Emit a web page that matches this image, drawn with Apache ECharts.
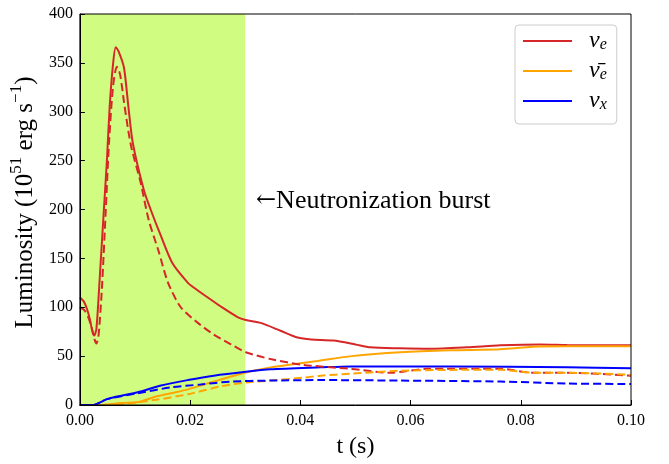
<!DOCTYPE html>
<html>
<head>
<meta charset="utf-8">
<script src="https://cdn.jsdelivr.net/npm/echarts@6/dist/echarts.min.js"></script>
<style>
  html, body { margin: 0; padding: 0; background: #fff; }
  #chart { width: 669px; height: 464px; }
</style>
</head>
<body>
<div id="chart"></div>
<script>
// Neutrino luminosities during the first 0.1 s after bounce
// (solid and dashed curves are two model variants)

const xTicks = [0, 0.02, 0.04, 0.06, 0.08, 0.10];
const yTicks = [0, 50, 100, 150, 200, 250, 300, 350, 400];

// nu_e, solid
const tNueA = [0, 0.0007, 0.0013, 0.0018, 0.0022, 0.0026, 0.003, 0.0036, 0.0043, 0.0049, 0.0054, 0.006, 0.0065, 0.007, 0.008, 0.0088, 0.0096, 0.0116, 0.0129, 0.0147, 0.0168, 0.0196, 0.0207, 0.0232, 0.0255, 0.0286, 0.0301, 0.0328, 0.0364, 0.0395, 0.042, 0.046, 0.05, 0.0527, 0.058, 0.0636, 0.0703, 0.0763, 0.0835, 0.0884, 0.1];
const lNueA = [110, 106, 98, 88, 77, 71, 78, 130, 195, 250, 305, 348, 366, 362, 345, 305, 268, 220, 199, 173, 145, 125, 120, 110, 101, 90, 87, 84, 76, 69, 67, 66, 62, 59, 58, 57.5, 59, 61, 62, 61.5, 61];

// nu_e, dashed
const tNueB = [0, 0.0008, 0.0015, 0.0021, 0.0026, 0.003, 0.0034, 0.004, 0.0047, 0.0053, 0.006, 0.0067, 0.0073, 0.008, 0.0088, 0.0094, 0.011, 0.0125, 0.0143, 0.016, 0.0183, 0.0214, 0.0243, 0.0274, 0.0301, 0.0346, 0.0406, 0.0491, 0.0563, 0.063, 0.0763, 0.0822, 0.0884, 0.1];
const lNueB = [100, 97, 90, 80, 68, 63, 72, 120, 200, 270, 325, 346, 338, 310, 280, 262, 228, 189, 157, 125, 100, 84, 72, 62, 54, 47, 41, 37, 33, 37, 37, 33, 33, 30];

// anti nu_e, solid
const tAnueA = [0, 0.004, 0.0075, 0.0106, 0.0134, 0.0165, 0.0196, 0.0225, 0.0255, 0.0286, 0.0315, 0.0346, 0.0377, 0.0431, 0.0493, 0.0582, 0.0672, 0.0763, 0.0822, 0.0884, 0.1];
const lAnueA = [0, 0, 2, 3, 8, 12, 16, 21, 26, 31, 35, 38.5, 41, 45, 50, 54, 56, 57, 59.5, 60, 60];

// anti nu_e, dashed
const tAnueB = [0, 0.005, 0.0134, 0.0196, 0.0255, 0.0301, 0.0346, 0.0406, 0.0437, 0.0491, 0.058, 0.0703, 0.0763, 0.0822, 0.0884, 0.1];
const lAnueB = [0, 0, 5, 11, 19, 23, 25, 28, 30, 32, 35, 36, 36, 33, 33, 31];

// nu_x, solid
const tNuxA = [0, 0.0025, 0.0038, 0.0049, 0.0062, 0.0105, 0.0147, 0.0196, 0.0243, 0.0301, 0.0346, 0.0437, 0.0491, 0.0672, 0.0884, 0.1];
const lNuxA = [0, 0, 3, 6, 8, 13, 20, 25.5, 30, 34, 36.5, 38.5, 39.5, 39.5, 38.5, 37.5];

// nu_x, dashed
const tNuxB = [0, 0.0025, 0.0038, 0.0049, 0.0105, 0.0165, 0.0219, 0.0274, 0.0346, 0.0437, 0.058, 0.0763, 0.0884, 0.1];
const lNuxB = [0, 0, 3, 6, 12, 18, 21, 24, 25, 25.5, 25, 24, 22, 21.5];

const burstStart = 0;
const burstEnd = 0.03;

const RED = '#d62728';
const ORANGE = '#ffa500';
const BLUE = '#0000ff';
const FONT = 'Liberation Serif';

function pairs(t, v) { return t.map((x, i) => [x, v[i]]); }

function curve(name, t, v, color, dashed) {
  return {
    name: name,
    type: 'line',
    data: pairs(t, v),
    smooth: 0.25,
    symbol: 'none',
    lineStyle: { color: color, width: 2, type: dashed ? [8, 4] : 'solid' },
    itemStyle: { color: color },
    z: 3
  };
}

const chart = echarts.init(document.getElementById('chart'), null, { renderer: 'canvas' });

const legendLabels = {
  nue: '{v|ν}{s|e}',
  anue: '{v|ν̄}{s|e}',
  nux: '{v|ν}{s|x}'
};

const series = [
  curve('nue', tNueA, lNueA, RED, false),
  curve('anue', tAnueA, lAnueA, ORANGE, false),
  curve('nux', tNuxA, lNuxA, BLUE, false),
  curve('nue-d', tNueB, lNueB, RED, true),
  curve('anue-d', tAnueB, lAnueB, ORANGE, true),
  curve('nux-d', tNuxB, lNuxB, BLUE, true)
];
series[0].markArea = {
  silent: true,
  itemStyle: { color: '#d0fc82' },
  data: [[{ xAxis: burstStart }, { xAxis: burstEnd }]]
};

chart.setOption({
  animation: false,
  backgroundColor: '#fff',
  textStyle: { fontFamily: FONT },
  grid: {
    left: 79, right: 38, top: 14, bottom: 56,
    show: true, borderColor: '#000', borderWidth: 1,
    backgroundColor: 'transparent', z: 4
  },
  xAxis: {
    type: 'value',
    min: xTicks[0], max: xTicks[xTicks.length - 1], interval: 0.02,
    name: 't (s)', nameLocation: 'middle', nameGap: 30,
    nameTextStyle: { fontFamily: FONT, fontSize: 24, color: '#000' },
    axisLine: { lineStyle: { color: '#000', width: 1 } },
    axisTick: { inside: true, length: 5, lineStyle: { color: '#000' } },
    axisLabel: {
      fontFamily: FONT, fontSize: 16, color: '#000', margin: 8,
      formatter: v => v.toFixed(2)
    },
    splitLine: { show: false },
    z: 5
  },
  yAxis: {
    type: 'value',
    min: yTicks[0], max: yTicks[yTicks.length - 1], interval: 50,
    name: '{n|Luminosity (10}{p|51}{n| erg s}{p|−1}{n|)}',
    nameLocation: 'middle', nameGap: 37, nameRotate: 90,
    nameTextStyle: {
      color: '#000',
      padding: [0, 0, 0, 14],
      rich: {
        n: { fontFamily: FONT, fontSize: 25, color: '#000', lineHeight: 30, verticalAlign: 'bottom' },
        p: { fontFamily: FONT, fontSize: 17, color: '#000', lineHeight: 30, verticalAlign: 'top' }
      }
    },
    axisLine: { show: true, lineStyle: { color: '#000', width: 1 } },
    axisTick: { show: true, inside: true, length: 5, lineStyle: { color: '#000' } },
    axisLabel: { fontFamily: FONT, fontSize: 16, color: '#000', margin: 7 },
    splitLine: { show: false },
    z: 5
  },
  legend: {
    orient: 'vertical',
    left: 515, top: 25,
    data: [
      { name: 'nue', icon: 'rect' },
      { name: 'anue', icon: 'rect' },
      { name: 'nux', icon: 'rect' }
    ],
    itemWidth: 49, itemHeight: 2, itemGap: 6,
    padding: [4, 10, 11, 8],
    borderColor: '#cccccc', borderWidth: 1, borderRadius: 4,
    backgroundColor: '#fff',
    formatter: name => legendLabels[name],
    textStyle: {
      color: '#000',
      lineHeight: 24,
      rich: {
        v: { fontFamily: FONT, fontStyle: 'italic', fontSize: 24, color: '#000', lineHeight: 24, padding: [0, 0, 0, 12] },
        s: { fontFamily: FONT, fontStyle: 'italic', fontSize: 16, color: '#000', lineHeight: 24, verticalAlign: 'bottom', padding: [8, 0, 0, 0] }
      }
    }
  },
  graphic: [{
    type: 'text',
    left: 256, top: 188,
    style: {
      text: '{a|←}{b|Neutronization burst}',
      rich: {
        a: { font: '24px "DejaVu Serif"', fill: '#000', lineHeight: 30 },
        b: { font: '26px "Liberation Serif"', fill: '#000', lineHeight: 30 }
      }
    },
    z: 10
  }],
  series: series
});
</script>
</body>
</html>
